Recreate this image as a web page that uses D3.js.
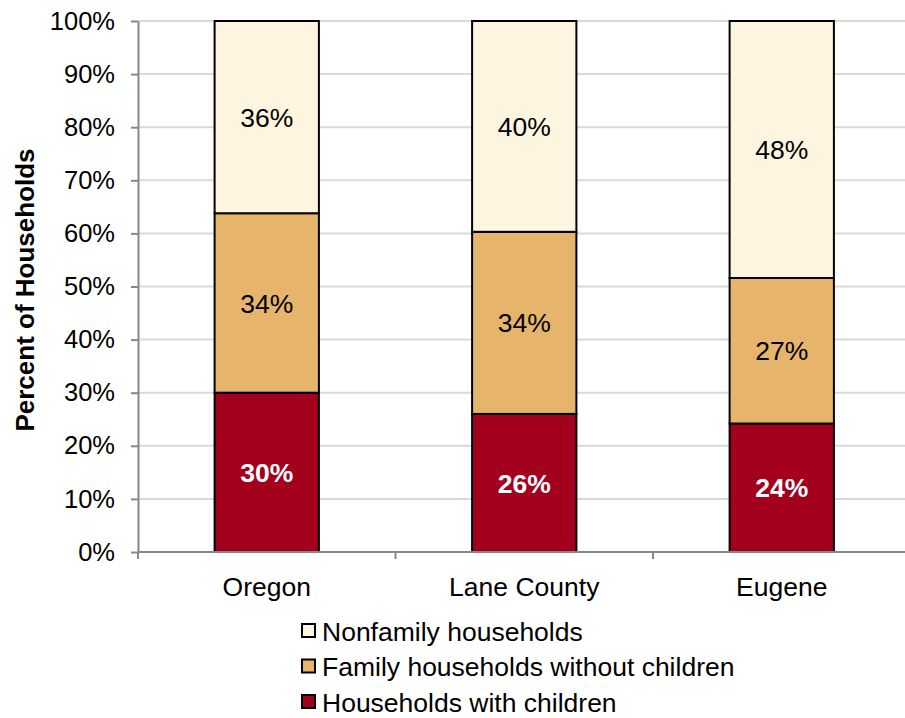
<!DOCTYPE html>
<html><head><meta charset="utf-8">
<script src="https://cdn.jsdelivr.net/npm/d3@7"></script>
<style>body{margin:0;background:#fff}svg{display:block;font-family:"Liberation Sans",Arial,sans-serif}</style>
</head><body><svg id="c" width="905" height="718"></svg>
<script>
const categories = ["Oregon", "Lane County", "Eugene"];
const withChildren = [30.0, 26.0, 24.2];
const familyNoChildren = [33.8, 34.3, 27.4];
const nonfamily = [36.2, 39.7, 48.4];
const seriesNames = ["Households with children", "Family households without children", "Nonfamily households"];
const seriesColors = ["#A3001E", "#E7B46B", "#FDF5DF"];
const yTicks = [0,10,20,30,40,50,60,70,80,90,100];

const FS = 25.5;
const FL = 26.5;
const svg = d3.select("#c");
const x = d3.scaleBand().domain(categories).range([138, 910.5]).paddingInner(0.595).paddingOuter(0.2975);
const y = d3.scaleLinear().domain([0,100]).range([552, 21]);

// gridlines
svg.append("g").selectAll("line").data(yTicks.filter(d=>d>0)).join("line")
  .attr("x1",138).attr("x2",905).attr("y1",d=>y(d)).attr("y2",d=>y(d))
  .attr("stroke","#d9d9d9").attr("stroke-width",2);

const rows = categories.map((c,i)=>({cat:c, vals:[withChildren[i], familyNoChildren[i], nonfamily[i]]}));
const stack = d3.stack().keys([0,1,2]).value((d,k)=>d.vals[k]);
const stacked = stack(rows);

const g = svg.append("g");
stacked.forEach((layer,k)=>{
  g.selectAll(null).data(layer).join("rect")
    .attr("x",d=>x(d.data.cat)).attr("width",x.bandwidth())
    .attr("y",d=>y(d[1])).attr("height",d=>y(d[0])-y(d[1]))
    .attr("fill",seriesColors[k]).attr("stroke","#000").attr("stroke-width",2);
});
stacked.forEach((layer,k)=>{
  g.selectAll(null).data(layer).join("text")
    .attr("x",d=>x(d.data.cat)+x.bandwidth()/2).attr("y",d=>(y(d[0])+y(d[1]))/2)
    .attr("dy","0.36em").attr("text-anchor","middle")
    .attr("font-size",FL).attr("font-weight",k===0?"bold":"normal")
    .attr("fill",k===0?"#fff":"#000")
    .text(d=>Math.round(d[1]-d[0])+"%");
});

// y axis
const ya = svg.append("g").attr("transform","translate(138,0)")
  .call(d3.axisLeft(y).tickValues(yTicks).tickFormat(d=>d+"%").tickSize(7).tickSizeOuter(0));
ya.select(".domain").attr("stroke","#888").attr("stroke-width",2);
ya.selectAll(".tick line").attr("stroke","#888").attr("stroke-width",2);
ya.selectAll(".tick text").attr("font-size",FS).attr("fill","#000").attr("x",-23)
  .attr("font-family","Liberation Sans, Arial, sans-serif");

// x axis
const xa = svg.append("g").attr("transform","translate(0,552)");
xa.append("line").attr("x1",138).attr("x2",905).attr("y1",0).attr("y2",0).attr("stroke","#888").attr("stroke-width",2);
const bounds = [138, x.step()+138, 2*x.step()+138];
xa.selectAll(null).data(bounds).join("line")
  .attr("x1",d=>d).attr("x2",d=>d).attr("y1",0).attr("y2",7).attr("stroke","#888").attr("stroke-width",2);
xa.selectAll(null).data(categories).join("text")
  .attr("x",d=>x(d)+x.bandwidth()/2).attr("y",34).attr("dy","0.36em").attr("text-anchor","middle")
  .attr("font-size",FL).attr("fill","#000").text(d=>d);

// y title
svg.append("text").attr("transform","translate(25,290) rotate(-90)")
  .attr("text-anchor","middle").attr("dy","0.36em").attr("font-size",26).attr("font-weight","bold").text("Percent of Households");

// legend
const legendOrder = [2,1,0];
const lg = svg.append("g");
legendOrder.forEach((k,i)=>{
  const yy = 631 + i*35.5;
  lg.append("rect").attr("x",302).attr("y",yy-7).attr("width",13).attr("height",13)
    .attr("fill",seriesColors[k]).attr("stroke","#000").attr("stroke-width",2);
  lg.append("text").attr("x",322).attr("y",yy).attr("dy","0.36em").attr("font-size",FL).text(seriesNames[k]);
});
</script></body></html>
